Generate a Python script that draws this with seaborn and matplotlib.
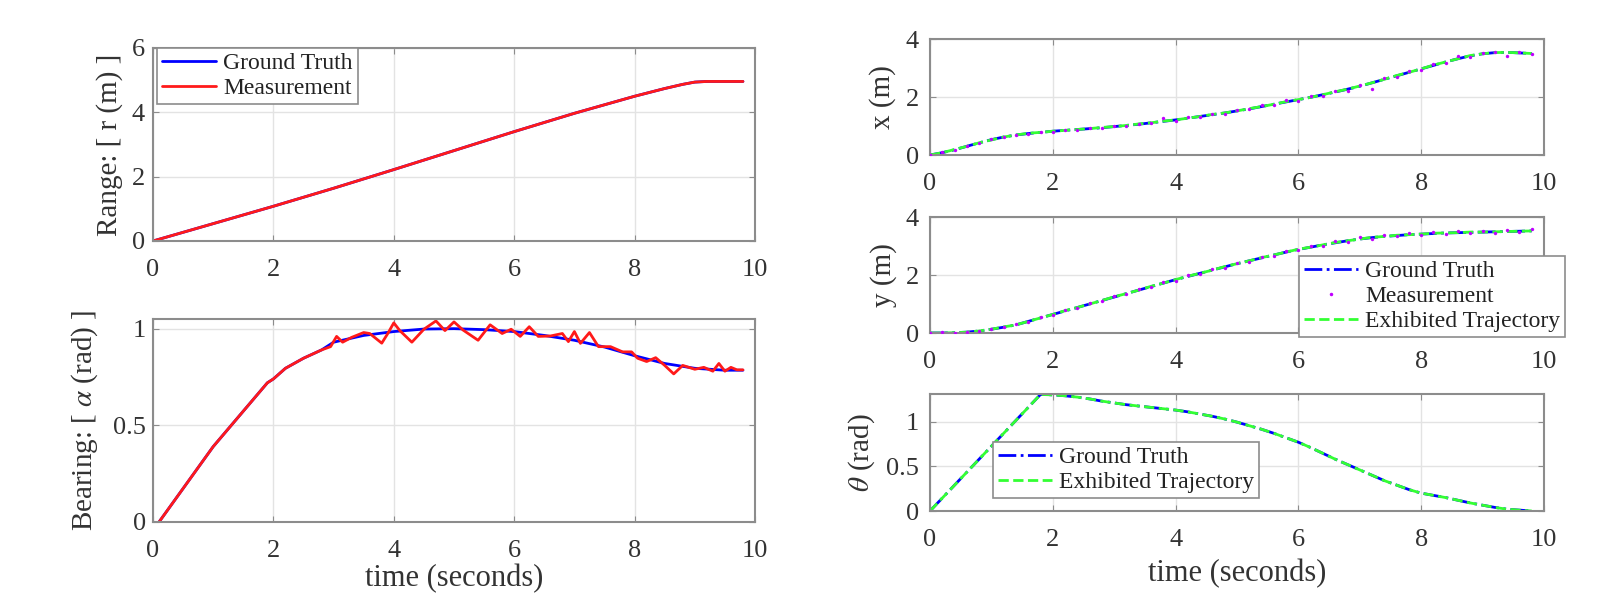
import numpy as np
import seaborn as sns
import matplotlib
matplotlib.use("Agg")
from matplotlib import pyplot as plt
from matplotlib.lines import Line2D

# ---- data ----
# left top: range
t_range = [0, 1, 2, 3, 4, 5, 6, 7, 8, 8.5, 8.8, 9.0, 9.2, 9.8]
r_truth = [0, 0.54, 1.08, 1.64, 2.22, 2.81, 3.40, 3.97, 4.50, 4.74, 4.87, 4.94, 4.96, 4.96]
r_meas  = [0, 0.54, 1.08, 1.64, 2.22, 2.81, 3.40, 3.97, 4.50, 4.74, 4.87, 4.94, 4.96, 4.96]

# left bottom: bearing
t_bear_truth = [0.1, 1.0, 1.9, 2.0, 2.2, 2.5, 2.8, 3.0, 3.5, 4.0, 4.5, 5.0, 5.5, 6.0,
                6.5, 7.0, 7.5, 8.0, 8.5, 9.0, 9.5, 9.8]
bear_truth = [0.0, 0.39, 0.72, 0.74, 0.795, 0.847, 0.89, 0.93, 0.965, 0.985, 0.998, 1.0,
              0.995, 0.985, 0.965, 0.94, 0.905, 0.86, 0.82, 0.795, 0.785, 0.785]
t_bear_meas = [0.1, 1.0, 1.9, 2.0, 2.2, 2.5, 2.8, 2.95, 3.05, 3.15, 3.3, 3.5, 3.6, 3.8,
               3.9, 4.0, 4.1, 4.3, 4.5, 4.7, 4.85, 5.0, 5.15, 5.4, 5.6, 5.8, 5.95, 6.1,
               6.25, 6.4, 6.6, 6.8, 6.9, 7.0, 7.1, 7.25, 7.4, 7.6, 7.8, 7.95, 8.05, 8.2,
               8.35, 8.5, 8.65, 8.8, 9.0, 9.15, 9.3, 9.4, 9.5, 9.6, 9.7, 9.8]
bear_meas = [0.0, 0.39, 0.72, 0.74, 0.795, 0.847, 0.89, 0.907, 0.96, 0.93, 0.955, 0.98,
             0.975, 0.925, 0.975, 1.03, 0.99, 0.93, 0.997, 1.04, 0.99, 1.035, 0.993,
             0.94, 1.02, 0.975, 0.997, 0.96, 1.01, 0.96, 0.962, 0.975, 0.933, 0.985,
             0.924, 0.98, 0.907, 0.907, 0.88, 0.88, 0.847, 0.83, 0.85, 0.81, 0.766,
             0.81, 0.79, 0.80, 0.78, 0.82, 0.78, 0.80, 0.787, 0.787]

# right panels: pose
t_pose = [0.0, 0.2, 0.4, 0.6, 0.8, 1.0, 1.2, 1.4, 1.6, 1.8, 2.0, 2.2, 2.4, 2.6, 2.8,
          3.0, 3.2, 3.4, 3.6, 3.8, 4.0, 4.2, 4.4, 4.6, 4.8, 5.0, 5.2, 5.4, 5.6, 5.8,
          6.0, 6.2, 6.4, 6.6, 6.8, 7.0, 7.2, 7.4, 7.6, 7.8, 8.0, 8.2, 8.4, 8.6, 8.8,
          9.0, 9.2, 9.4, 9.6, 9.8]
x_truth = [0.00, 0.08, 0.18, 0.30, 0.42, 0.53, 0.62, 0.69, 0.74, 0.78, 0.82, 0.85, 0.88,
           0.91, 0.94, 0.98, 1.02, 1.06, 1.11, 1.16, 1.21, 1.27, 1.33, 1.39, 1.45, 1.52,
           1.59, 1.67, 1.75, 1.83, 1.91, 1.99, 2.08, 2.17, 2.27, 2.37, 2.49, 2.61, 2.73,
           2.85, 2.97, 3.09, 3.21, 3.32, 3.42, 3.49, 3.53, 3.54, 3.52, 3.50]
x_exhib = [0.00, 0.08, 0.19, 0.30, 0.42, 0.52, 0.62, 0.69, 0.75, 0.78, 0.82, 0.85, 0.88,
           0.91, 0.95, 0.98, 1.02, 1.07, 1.11, 1.17, 1.21, 1.27, 1.33, 1.40, 1.45, 1.52,
           1.60, 1.67, 1.75, 1.84, 1.91, 1.99, 2.08, 2.18, 2.27, 2.38, 2.49, 2.61, 2.74,
           2.85, 2.97, 3.10, 3.21, 3.32, 3.43, 3.49, 3.53, 3.54, 3.52, 3.50]
x_meas = [0.00, 0.09, 0.17, 0.31, 0.41, 0.55, 0.61, 0.70, 0.73, 0.79, 0.81, 0.86, 0.87,
          0.92, 0.93, 0.99, 1.01, 1.08, 1.10, 1.27, 1.18, 1.30, 1.31, 1.42, 1.40, 1.55,
          1.57, 1.72, 1.73, 1.88, 1.85, 2.05, 2.02, 2.22, 2.20, 2.43, 2.28, 2.66, 2.70,
          2.90, 2.93, 3.13, 3.18, 3.40, 3.38, 3.52, 3.56, 3.43, 3.55, 3.48]

y_truth = [0.00, 0.00, 0.01, 0.03, 0.07, 0.13, 0.20, 0.28, 0.40, 0.52, 0.64, 0.76, 0.88,
           1.00, 1.12, 1.24, 1.36, 1.48, 1.60, 1.72, 1.84, 1.95, 2.06, 2.17, 2.28, 2.39,
           2.49, 2.59, 2.69, 2.79, 2.88, 2.96, 3.04, 3.11, 3.18, 3.24, 3.29, 3.33, 3.36,
           3.39, 3.41, 3.43, 3.45, 3.46, 3.47, 3.48, 3.49, 3.50, 3.51, 3.52]
y_exhib = [0.00, 0.00, 0.01, 0.03, 0.07, 0.13, 0.21, 0.28, 0.40, 0.52, 0.64, 0.77, 0.88,
           1.00, 1.12, 1.25, 1.36, 1.48, 1.61, 1.72, 1.84, 1.96, 2.06, 2.17, 2.29, 2.39,
           2.49, 2.60, 2.69, 2.79, 2.89, 2.96, 3.04, 3.12, 3.18, 3.24, 3.30, 3.33, 3.37,
           3.39, 3.41, 3.44, 3.45, 3.46, 3.48, 3.48, 3.49, 3.50, 3.51, 3.52]
y_meas = [0.00, 0.02, 0.00, 0.05, 0.06, 0.15, 0.19, 0.30, 0.38, 0.54, 0.62, 0.78, 0.86,
          1.03, 1.10, 1.27, 1.33, 1.51, 1.57, 1.76, 1.80, 1.99, 2.03, 2.21, 2.25, 2.43,
          2.46, 2.63, 2.66, 2.84, 2.85, 3.01, 3.00, 3.17, 3.13, 3.30, 3.25, 3.38, 3.33,
          3.44, 3.38, 3.47, 3.42, 3.51, 3.44, 3.53, 3.46, 3.56, 3.48, 3.57]

th_truth = [0.0, 0.145, 0.29, 0.435, 0.58, 0.725, 0.87, 1.015, 1.16, 1.305, 1.30, 1.29,
            1.275, 1.255, 1.23, 1.21, 1.19, 1.175, 1.16, 1.145, 1.13, 1.11, 1.085, 1.06,
            1.03, 0.995, 0.955, 0.915, 0.87, 0.82, 0.77, 0.71, 0.645, 0.58, 0.52, 0.46,
            0.40, 0.34, 0.29, 0.24, 0.20, 0.175, 0.15, 0.12, 0.09, 0.065, 0.04, 0.02,
            0.01, 0.0]
th_exhib = [0.0, 0.145, 0.29, 0.435, 0.58, 0.725, 0.87, 1.015, 1.16, 1.305, 1.30, 1.29,
            1.275, 1.255, 1.23, 1.21, 1.19, 1.175, 1.16, 1.145, 1.13, 1.11, 1.085, 1.06,
            1.03, 0.995, 0.955, 0.915, 0.87, 0.82, 0.77, 0.71, 0.645, 0.58, 0.52, 0.46,
            0.40, 0.34, 0.29, 0.24, 0.20, 0.175, 0.15, 0.12, 0.09, 0.065, 0.04, 0.02,
            0.01, 0.0]

x_ticks = [0, 2, 4, 6, 8, 10]

# ---- styling ----
sns.set_style("whitegrid")
plt.rcParams["font.family"] = ["Liberation Serif", "DejaVu Serif"]
plt.rcParams["mathtext.fontset"] = "stix"
plt.rcParams["axes.unicode_minus"] = False

BLUE = "#0000ff"
RED = "#ff1a1a"
GREEN = "#33ff33"
MAG = "#c000ff"
EDGE = "#8c8c8c"
GRID = "#e3e3e3"
TXT = "#333333"

W, H = 1622, 616
fig = plt.figure(figsize=(W / 100, H / 100), dpi=100)


def add_ax(l, t, r, b):
    # pixel box -> figure fraction
    return fig.add_axes([l / W, 1 - b / H, (r - l) / W, (b - t) / H])


def style_ax(ax, ylim, yticks, ypad):
    ax.set_xlim(0, 10)
    ax.set_ylim(*ylim)
    ax.set_xticks(x_ticks)
    ax.set_yticks(yticks)
    ax.set_xticklabels([f"{v:g}" for v in x_ticks])
    ax.set_yticklabels([f"{v:g}" for v in yticks])
    ax.grid(True, color=GRID, linewidth=1.0)
    for s in ax.spines.values():
        s.set_visible(True)
        s.set_color(EDGE)
        s.set_linewidth(1.5)
    ax.tick_params(axis="both", which="both", direction="in", length=4,
                   color=EDGE, labelsize=19, labelcolor=TXT,
                   top=True, right=True, bottom=True, left=True)
    ax.tick_params(axis="x", pad=13)
    ax.tick_params(axis="y", pad=ypad)
    ax.set_xlabel("")
    ax.set_ylabel("")


def set_ylab(ax, text, xfrac):
    ax.set_ylabel(text, fontsize=21, color=TXT)
    ax.yaxis.set_label_coords(xfrac, 0.5)


def matlab_legend(ax, handles, labels, **kw):
    leg = ax.legend(handles, labels, fancybox=False, framealpha=1, edgecolor=EDGE,
                    fontsize=17, handlelength=2.3, handletextpad=0.3,
                    borderpad=0.2, labelspacing=0.15, borderaxespad=0, **kw)
    leg.get_frame().set_linewidth(1.2)
    for txt in leg.get_texts():
        txt.set_color("#222222")
    return leg


# ---- left top: range ----
ax1 = add_ax(153, 48, 755, 241)
sns.lineplot(x=t_range, y=r_truth, ax=ax1, color=BLUE, linewidth=2, estimator=None)
sns.lineplot(x=t_range, y=r_meas, ax=ax1, color=RED, linewidth=2, estimator=None)
style_ax(ax1, (0, 6), [0, 2, 4, 6], 6)
set_ylab(ax1, "Range: [ r (m) ]", -0.050)
matlab_legend(ax1, [Line2D([], [], color=BLUE, lw=2), Line2D([], [], color=RED, lw=2)],
              ["Ground Truth", "Measurement"], loc="upper left",
              bbox_to_anchor=(0.007, 1.0))

# ---- left bottom: bearing ----
ax2 = add_ax(153, 319, 755, 522)
sns.lineplot(x=t_bear_truth, y=bear_truth, ax=ax2, color=BLUE, linewidth=2, estimator=None)
sns.lineplot(x=t_bear_meas, y=bear_meas, ax=ax2, color=RED, linewidth=2, estimator=None)
style_ax(ax2, (0, 1.05), [0, 0.5, 1], 5)
set_ylab(ax2, r"Bearing: [ $\alpha$ (rad) ]", -0.088)
ax2.set_xlabel("time (seconds)", fontsize=22, color=TXT, labelpad=1)

# ---- right: x ----
ax3 = add_ax(930, 39, 1544, 155)
sns.lineplot(x=t_pose, y=x_truth, ax=ax3, color=BLUE, linewidth=2, linestyle="-.",
             estimator=None)
sns.scatterplot(x=t_pose, y=x_meas, ax=ax3, color=MAG, s=6, linewidth=0, zorder=3)
sns.lineplot(x=t_pose, y=x_exhib, ax=ax3, color=GREEN, linewidth=2, linestyle="--",
             estimator=None)
style_ax(ax3, (0, 4), [0, 2, 4], 8)
set_ylab(ax3, "x (m)", -0.055)

# ---- right: y ----
ax4 = add_ax(930, 217, 1544, 333)
sns.lineplot(x=t_pose, y=y_truth, ax=ax4, color=BLUE, linewidth=2, linestyle="-.",
             estimator=None)
sns.scatterplot(x=t_pose, y=y_meas, ax=ax4, color=MAG, s=6, linewidth=0, zorder=3)
sns.lineplot(x=t_pose, y=y_exhib, ax=ax4, color=GREEN, linewidth=2, linestyle="--",
             estimator=None)
style_ax(ax4, (0, 4), [0, 2, 4], 8)
set_ylab(ax4, "y (m)", -0.054)
matlab_legend(ax4,
              [Line2D([], [], color=BLUE, lw=2, ls="-."),
               Line2D([], [], color=MAG, lw=0, marker=".", markersize=3),
               Line2D([], [], color=GREEN, lw=2, ls="--")],
              ["Ground Truth", "Measurement", "Exhibited Trajectory"],
              loc="lower left", bbox_to_anchor=(0.601, -0.034))

# ---- right: theta ----
ax5 = add_ax(930, 394, 1544, 511)
sns.lineplot(x=t_pose, y=th_truth, ax=ax5, color=BLUE, linewidth=2, linestyle="-.",
             estimator=None)
sns.lineplot(x=t_pose, y=th_exhib, ax=ax5, color=GREEN, linewidth=2, linestyle="--",
             estimator=None)
style_ax(ax5, (0, 1.31), [0, 0.5, 1], 8)
set_ylab(ax5, r"$\theta$ (rad)", -0.086)
ax5.set_xlabel("time (seconds)", fontsize=22, color=TXT, labelpad=6)
matlab_legend(ax5,
              [Line2D([], [], color=BLUE, lw=2, ls="-."),
               Line2D([], [], color=GREEN, lw=2, ls="--")],
              ["Ground Truth", "Exhibited Trajectory"],
              loc="lower left", bbox_to_anchor=(0.103, 0.11))

fig.savefig("out.png", dpi=100, facecolor="white")
